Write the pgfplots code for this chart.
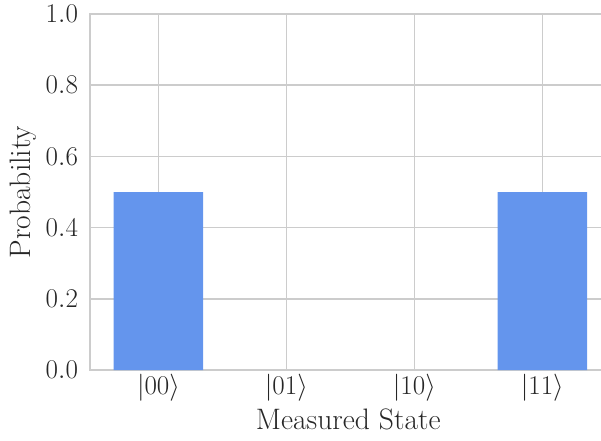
\RequirePackage{fix-cm}
\documentclass[border=0pt]{standalone}
\usepackage{pgfplots}
\pgfplotsset{compat=1.18}
\definecolor{barblue}{HTML}{6495ED}
\definecolor{gridgray}{HTML}{CCCCCC}
\definecolor{txt}{HTML}{262626}
\begin{document}
\fontsize{19.5pt}{23pt}\selectfont
\begin{tikzpicture}
\begin{axis}[
  name=ax,
  scale only axis,
  width=374.9pt, height=256.3pt,
  xmin=-0.535, xmax=3.535,
  ymin=0, ymax=1,
  ytick={0,0.2,0.4,0.6,0.8,1.0},
  yticklabel style={/pgf/number format/fixed,/pgf/number format/fixed zerofill,/pgf/number format/precision=1},
  xtick={0,1,2,3},
  xticklabels={$|00\rangle$,$|01\rangle$,$|10\rangle$,$|11\rangle$},
  major tick length=0pt,
  grid=major,
  major grid style={gridgray, line width=1.1pt},
  axis line style={gridgray, line width=1.1pt},
  tick label style={font=\fontsize{19.5pt}{23pt}\selectfont, text=txt},
  label style={font=\fontsize{21.3pt}{25pt}\selectfont, text=txt},
  xlabel={Measured State},
  ylabel={Probability},
  xticklabel shift=-3.5pt,
  yticklabel shift=2pt,
  xlabel style={at={(axis description cs:0.5,0)}, anchor=base, yshift=-43pt, xshift=-1.5pt},
  ylabel style={at={(axis description cs:-0.1286,0.5)}, anchor=center},
  ybar, bar width=0.7,
  bar shift=0pt,
  set layers,
]
\addplot[fill=barblue, draw=none] coordinates {(0,0.5) (3,0.5)};
\end{axis}
\pgfresetboundingbox
\path[use as bounding box] ([xshift=-64.8pt,yshift=-50.4pt]ax.south west) rectangle ([xshift=367.9pt,yshift=10.1pt]ax.north west);
\end{tikzpicture}
\end{document}
